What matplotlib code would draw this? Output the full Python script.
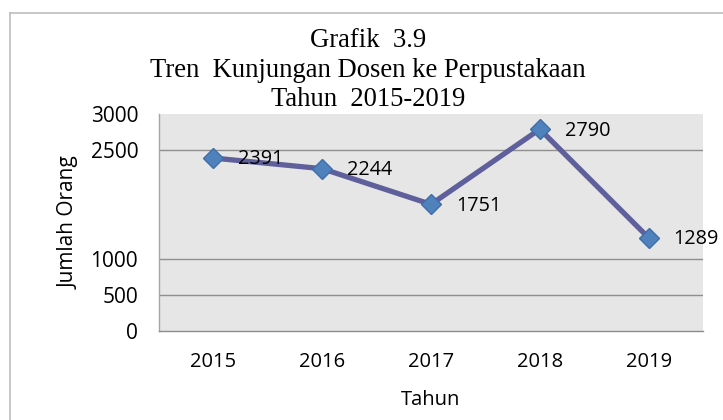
import matplotlib
matplotlib.use("Agg")
import matplotlib.pyplot as plt
from matplotlib.lines import Line2D

years = ["2015", "2016", "2017", "2018", "2019"]
visits = [2391, 2244, 1751, 2790, 1289]
y_ticks = [0, 500, 1000, 2500, 3000]
y_tick_labels = ["0", "500", "1000", "2500", "3000"]
title_lines = ["Grafik  3.9", "Tren  Kunjungan Dosen ke Perpustakaan", "Tahun  2015-2019"]
x_label = "Tahun"
y_label = "Jumlah Orang"

W, H = 723, 420
fig = plt.figure(figsize=(W / 100, H / 100), dpi=100)
fig.patch.set_facecolor("white")

sans = ["Open Sans", "DejaVu Sans"]
serif = ["Liberation Serif", "DejaVu Serif"]

# outer chart frame (only left and top edges visible)
fig.add_artist(Line2D([9.5 / W, 9.5 / W], [0, 1 - 12.5 / H], transform=fig.transFigure,
                      color="#bdbdbd", lw=1.2))
fig.add_artist(Line2D([9.5 / W, 1], [1 - 12.5 / H, 1 - 12.5 / H], transform=fig.transFigure,
                      color="#bdbdbd", lw=1.2))

left, right, top, bottom = 159, 703, 114, 331
ax = fig.add_axes([left / W, 1 - bottom / H, (right - left) / W, (bottom - top) / H])
ax.set_facecolor("#e6e6e6")

x = list(range(len(years)))
ax.plot(x, visits, color="#5f5f9b", lw=3.8, solid_joinstyle="miter", zorder=3)
ax.plot(x, visits, linestyle="none", marker="D", markersize=10.5,
        markerfacecolor="#4f81bd", markeredgecolor="#3f6ea8", markeredgewidth=1.0, zorder=4)

for xi, v in zip(x, visits):
    ax.annotate(str(v), (xi, v), xytext=(18, -1), textcoords="offset points",
                ha="left", va="center", fontsize=14.3, family=sans, color="black", zorder=5)

ax.set_xlim(-0.5, len(years) - 0.5)
ax.set_ylim(0, 3000)
ax.set_xticks(x)
ax.set_xticklabels(years, family=sans, fontsize=14.5)
ax.set_yticks(y_ticks)
ax.set_yticklabels(y_tick_labels, family=sans, fontsize=15)
ax.tick_params(axis="both", length=0)
ax.tick_params(axis="y", pad=15)
ax.tick_params(axis="x", pad=15)

ax.yaxis.grid(True, color="#8f8f8f", lw=1.0)
ax.set_axisbelow(True)
gl = ax.yaxis.get_gridlines()
gl[0].set_visible(False)
gl[-1].set_visible(False)

for s in ["top", "right"]:
    ax.spines[s].set_visible(False)
ax.spines["left"].set_color("#a6a6a6")
ax.spines["bottom"].set_color("#8c8c8c")
ax.spines["left"].set_linewidth(1.0)
ax.spines["bottom"].set_linewidth(1.0)

# titles
cx = 368 / W
for line, yb in zip(title_lines, [47, 77, 106]):
    fig.text(cx, 1 - yb / H, line, ha="center", va="baseline", fontsize=19.2,
             family=serif, color="black")

fig.text(431 / W, 1 - 400 / H, x_label, ha="center", va="center", fontsize=14.5,
         family=sans)
fig.text(69 / W, 1 - 223 / H, y_label, ha="center", va="center", rotation=90,
         fontsize=15, family=sans)

fig.savefig("out.png", dpi=100)
